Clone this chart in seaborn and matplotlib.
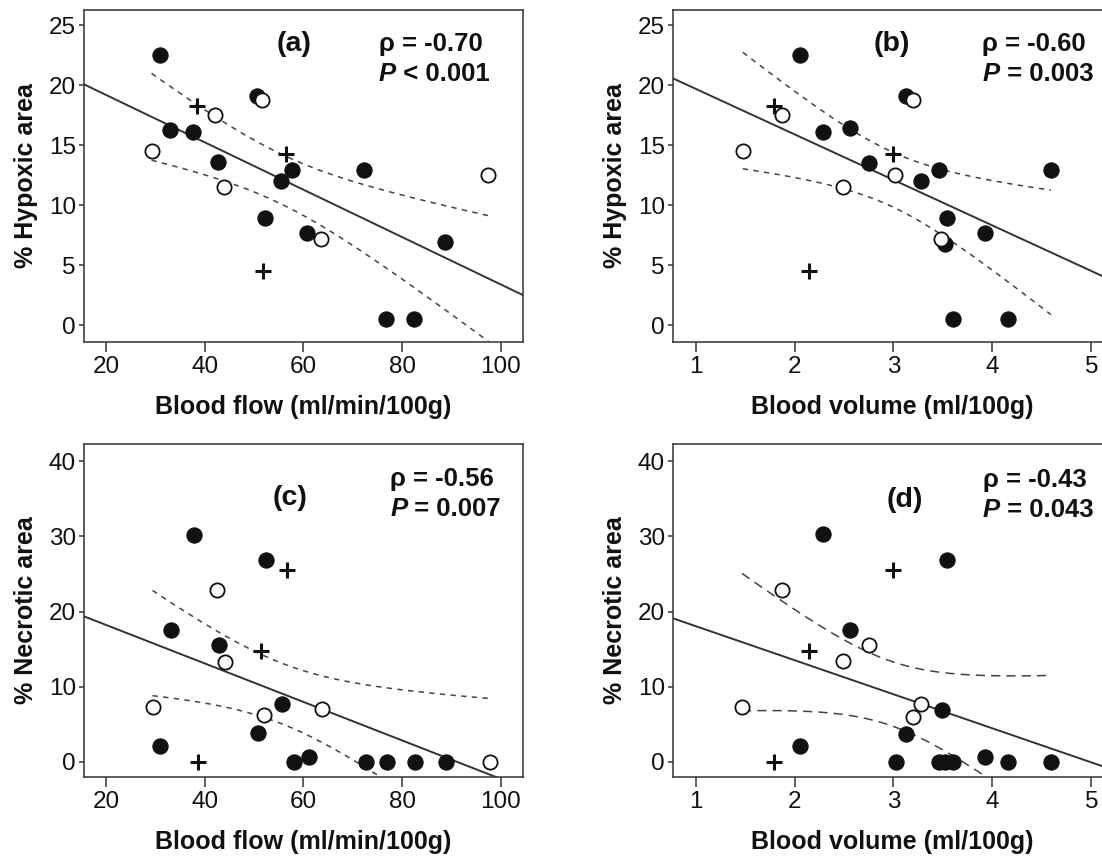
import numpy as np
import pandas as pd
import matplotlib
matplotlib.use("Agg")
import matplotlib.pyplot as plt
import seaborn as sns

sns.set_style("ticks")
plt.rcParams["font.family"] = ["Liberation Sans", "DejaVu Sans"]

# -------------------------------------------------------
# Data (one list per panel)
# -------------------------------------------------------
# (a) blood flow vs % hypoxic area
a_x = [30.9, 32.9, 37.7, 42.7, 50.6, 52.1, 55.5, 57.6, 60.7, 72.3, 76.7, 82.4, 88.6,
       29.2, 42.1, 43.9, 51.6, 63.5, 97.5,
       38.4, 56.4, 51.7]
a_y = [22.5, 16.3, 16.1, 13.6, 19.1, 8.9, 12.0, 12.9, 7.7, 12.9, 0.5, 0.5, 6.9,
       14.5, 17.5, 11.5, 18.75, 7.2, 12.5,
       18.3, 14.3, 4.5]
a_group = ["filled"] * 13 + ["open"] * 6 + ["plus"] * 3

# (b) blood volume vs % hypoxic area
b_x = [2.054, 2.285, 2.558, 2.753, 3.126, 3.538, 3.279, 3.456, 3.928, 4.592, 3.605, 4.155, 3.516,
       1.476, 1.877, 2.487, 3.201, 3.484, 3.020,
       1.79, 2.995, 2.143]
b_y = [22.5, 16.1, 16.4, 13.5, 19.1, 8.9, 12.0, 12.9, 7.7, 12.9, 0.5, 0.5, 6.8,
       14.5, 17.5, 11.5, 18.75, 7.2, 12.5,
       18.3, 14.3, 4.5]
b_group = ["filled"] * 13 + ["open"] * 6 + ["plus"] * 3

# (c) blood flow vs % necrotic area
c_x = [31.0, 33.1, 37.9, 42.8, 50.7, 52.3, 55.7, 58.0, 61.2, 72.7, 76.9, 82.7, 88.9,
       29.4, 42.5, 44.1, 51.9, 63.8, 97.9,
       38.6, 56.6, 51.3]
c_y = [2.1, 17.5, 30.2, 15.5, 3.8, 26.9, 7.7, 0.0, 0.6, 0.0, 0.0, 0.0, 0.0,
       7.3, 22.85, 13.3, 6.2, 7.0, 0.0,
       0.0, 25.6, 14.7]
c_group = ["filled"] * 13 + ["open"] * 6 + ["plus"] * 3

# (d) blood volume vs % necrotic area
d_x = [2.285, 2.054, 2.558, 3.545, 3.492, 3.126, 3.023, 3.456, 3.52, 3.605, 3.928, 4.155, 4.592,
       1.468, 1.877, 2.487, 2.757, 3.197, 3.279,
       2.995, 2.143, 1.79]
d_y = [30.3, 2.1, 17.5, 26.9, 6.9, 3.7, 0.0, 0.0, 0.0, 0.0, 0.6, 0.0, 0.0,
       7.3, 22.9, 13.4, 15.5, 6.0, 7.7,
       25.6, 14.8, 0.0]
d_group = ["filled"] * 13 + ["open"] * 6 + ["plus"] * 3

rho_text = ["\u03c1 = -0.70", "\u03c1 = -0.60", "\u03c1 = -0.56", "\u03c1 = -0.43"]
p_text = [" < 0.001", " = 0.003", " = 0.007", " = 0.043"]
panel_tags = ["(a)", "(b)", "(c)", "(d)"]
x_labels = ["Blood flow (ml/min/100g)", "Blood volume (ml/100g)"] * 2
y_labels = ["% Hypoxic area"] * 2 + ["% Necrotic area"] * 2

flow_ticks = [20, 40, 60, 80, 100]
volume_ticks = [1, 2, 3, 4, 5]
hyp_ticks = [0, 5, 10, 15, 20, 25]
nec_ticks = [0, 10, 20, 30, 40]

T_975 = 2.086  # t quantile, df = 20

# -------------------------------------------------------
# Figure
# -------------------------------------------------------
fig = plt.figure(figsize=(11.02, 8.6), dpi=100)

panels = [
    dict(x=a_x, y=a_y, g=a_group, pos=[0.0762, 0.6023, 0.3984, 0.3860],
         xlim=(15.5, 104.5), ylim=(-1.4, 26.25), xt=flow_ticks, yt=hyp_ticks,
         tag=(58.0, 23.4), stat=(75.3, 23.4, 20.9), dash=(3.5, 3.5)),
    dict(x=b_x, y=b_y, g=b_group, pos=[0.6107, 0.6023, 0.3984, 0.3860],
         xlim=(0.77, 5.21), ylim=(-1.4, 26.25), xt=volume_ticks, yt=hyp_ticks,
         tag=(2.98, 23.4), stat=(3.90, 23.4, 20.9), dash=(3.5, 3.5)),
    dict(x=c_x, y=c_y, g=c_group, pos=[0.0762, 0.0965, 0.3984, 0.3872],
         xlim=(15.5, 104.5), ylim=(-2.0, 42.3), xt=flow_ticks, yt=nec_ticks,
         tag=(57.3, 35.1), stat=(77.6, 37.6, 33.6), dash=(3.5, 3.5)),
    dict(x=d_x, y=d_y, g=d_group, pos=[0.6107, 0.0965, 0.3984, 0.3872],
         xlim=(0.77, 5.21), ylim=(-2.0, 42.3), xt=volume_ticks, yt=nec_ticks,
         tag=(3.11, 34.9), stat=(3.905, 37.55, 33.5), dash=(6, 4)),
]

ink = "#111111"
line_gray = "#333333"

for i, p in enumerate(panels):
    ax = fig.add_axes(p["pos"])
    df = pd.DataFrame({"x": p["x"], "y": p["y"], "group": p["g"]})
    ax.set_xlim(p["xlim"])
    ax.set_ylim(p["ylim"])

    # ---- fitted line (extends over the whole axis) ----
    sns.regplot(data=df, x="x", y="y", scatter=False, ci=None, truncate=False,
                line_kws=dict(color=line_gray, linewidth=1.4), ax=ax)

    # ---- 95% CI of the mean (dashed) ----
    x = np.asarray(p["x"])
    y = np.asarray(p["y"])
    n = len(x)
    slope, intercept = np.polyfit(x, y, 1)
    resid = y - (intercept + slope * x)
    s = np.sqrt(np.sum(resid ** 2) / (n - 2))
    grid = np.linspace(x.min(), x.max(), 100)
    se = s * np.sqrt(1 / n + (grid - x.mean()) ** 2 / np.sum((x - x.mean()) ** 2))
    fit = intercept + slope * grid
    for band in (fit + T_975 * se, fit - T_975 * se):
        ax.plot(grid, band, color="#444444", linewidth=1.1, dashes=p["dash"])

    # ---- points ----
    sub = df[df["group"] == "filled"]
    sns.scatterplot(data=sub, x="x", y="y", marker="o", s=120, color=ink,
                    edgecolor=ink, linewidth=0.8, zorder=3, ax=ax)
    sub = df[df["group"] == "open"]
    sns.scatterplot(data=sub, x="x", y="y", marker="o", s=105, facecolor="white",
                    edgecolor=ink, linewidth=1.3, zorder=3, ax=ax)
    sub = df[df["group"] == "plus"]
    sns.scatterplot(data=sub, x="x", y="y", marker="+", s=140, color=ink,
                    linewidth=2.2, zorder=3, ax=ax)

    ax.set_xlim(p["xlim"])
    ax.set_ylim(p["ylim"])
    ax.set_xticks(p["xt"])
    ax.set_yticks(p["yt"])

    for side in ["top", "right", "bottom", "left"]:
        ax.spines[side].set_visible(True)
        ax.spines[side].set_color(line_gray)
        ax.spines[side].set_linewidth(1.1)
    ax.tick_params(axis="x", direction="out", length=7, width=1.1, color=line_gray,
                   pad=3, labelsize=17.5, labelcolor=ink)
    ax.tick_params(axis="y", direction="out", length=3.8, width=1.1, color=line_gray,
                   pad=2, labelsize=17.5, labelcolor=ink)

    ax.set_xlabel(x_labels[i], fontsize=18, fontweight="bold", color=ink, labelpad=12)
    ax.set_ylabel(y_labels[i], fontsize=18, fontweight="bold", color=ink, labelpad=8)

    # ---- annotations ----
    ax.text(p["tag"][0], p["tag"][1], panel_tags[i], fontsize=20.5, fontweight="bold",
            ha="center", va="center", color=ink)
    sx, sy1, sy2 = p["stat"]
    ax.text(sx, sy1, rho_text[i], fontsize=18.5, fontweight="bold",
            ha="left", va="center", color=ink)
    pt = ax.text(sx, sy2, "P", fontsize=18.5, fontweight="bold", fontstyle="italic",
                 ha="left", va="center", color=ink)
    ax.annotate(p_text[i], xy=(1, 0), xycoords=pt, ha="left", va="bottom",
                fontsize=18.5, fontweight="bold", color=ink)

fig.savefig("out.png", dpi=100)
